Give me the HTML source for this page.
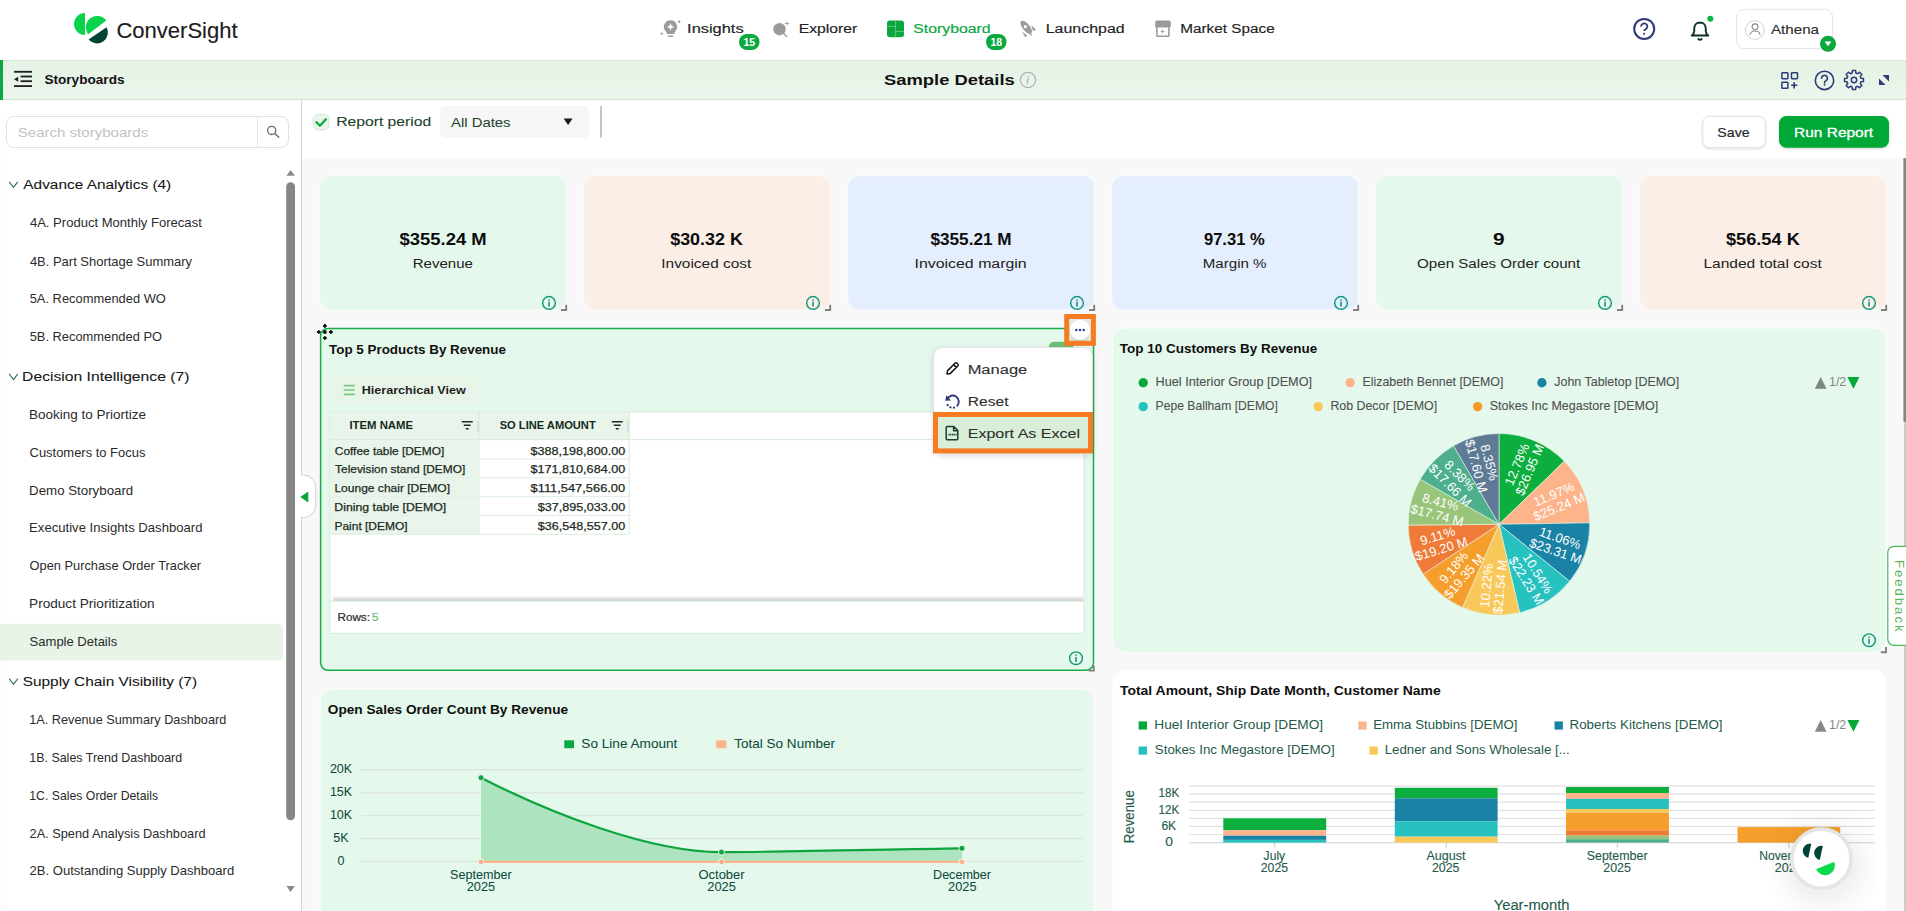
<!DOCTYPE html>
<html><head><meta charset="utf-8"><title>ConverSight - Sample Details</title>
<style>
html,body{margin:0;padding:0;width:1906px;height:911px;overflow:hidden;background:#f8f8f8;}
svg{display:block;font-family:"Liberation Sans", sans-serif;}
svg text{font-family:"Liberation Sans", sans-serif;}
</style></head>
<body>
<svg width="1906" height="911" viewBox="0 0 1906 911">
<defs>
<filter id="sh" x="-20%" y="-20%" width="140%" height="150%"><feDropShadow dx="0" dy="2" stdDeviation="3" flood-color="#000" flood-opacity="0.14"/></filter>
<filter id="sh2" x="-30%" y="-30%" width="160%" height="160%"><feDropShadow dx="0" dy="1" stdDeviation="1.2" flood-color="#000" flood-opacity="0.18"/></filter>
<linearGradient id="scrsh" x1="0" y1="0" x2="0" y2="1"><stop offset="0" stop-color="#ffffff"/><stop offset="1" stop-color="#c9c9c9"/></linearGradient>
<linearGradient id="strip" x1="0" y1="0" x2="0" y2="1"><stop offset="0" stop-color="#e6f2e6"/><stop offset="1" stop-color="#ecf6ec"/></linearGradient>
<radialGradient id="chatsh" cx="0.5" cy="0.5" r="0.5"><stop offset="0.5" stop-color="#000" stop-opacity="0.055"/><stop offset="0.75" stop-color="#000" stop-opacity="0.02"/><stop offset="1" stop-color="#000" stop-opacity="0"/></radialGradient>
</defs>
<rect x="0" y="0" width="1906" height="911" rx="0" fill="#f8f8f8" />
<rect x="0" y="0" width="1906" height="60" rx="0" fill="#ffffff" />
<path d="M85,13 A11,11 0 0 0 85,35 Z" fill="#08d34b" />
<path d="M88.2,34.2 L106.2,20.4 A11.3,11.3 0 0 0 88.2,34.2 Z" fill="#08d34b" />
<path d="M88.6,39.6 L106.6,27.2 A11,11 0 0 1 88.6,39.6 Z" fill="#004436" />
<text x="116.38" y="38" font-size="22.67" font-weight="400" fill="#1c1c1c" textLength="121.28" lengthAdjust="spacingAndGlyphs" stroke="#1c1c1c" stroke-width="0.15">ConverSight</text>
<text x="687.09" y="33" font-size="13.08" font-weight="400" fill="#1f1f1f" textLength="56.51" lengthAdjust="spacingAndGlyphs" stroke="#1f1f1f" stroke-width="0.18">Insights</text>
<text x="798.71" y="33" font-size="13.08" font-weight="400" fill="#1f1f1f" textLength="58.55" lengthAdjust="spacingAndGlyphs" stroke="#1f1f1f" stroke-width="0.18">Explorer</text>
<text x="913.28" y="33" font-size="13.08" font-weight="400" fill="#0aa83f" textLength="77.34" lengthAdjust="spacingAndGlyphs" stroke="#0aa83f" stroke-width="0.18">Storyboard</text>
<text x="1045.69" y="33" font-size="13.08" font-weight="400" fill="#1f1f1f" textLength="78.94" lengthAdjust="spacingAndGlyphs" stroke="#1f1f1f" stroke-width="0.18">Launchpad</text>
<text x="1180.24" y="33" font-size="13.08" font-weight="400" fill="#1f1f1f" textLength="94.44" lengthAdjust="spacingAndGlyphs" stroke="#1f1f1f" stroke-width="0.18">Market Space</text>
<rect x="739" y="34" width="20.6" height="16" rx="8" fill="#0aa83f" />
<text x="749.3" y="45.6" font-size="10.5" font-weight="700" fill="#ffffff" text-anchor="middle" >15</text>
<rect x="986" y="34" width="20.6" height="16" rx="8" fill="#0aa83f" />
<text x="996.3" y="45.6" font-size="10.5" font-weight="700" fill="#ffffff" text-anchor="middle" >18</text>
<path d="M670.5,20.3 a6.6,6.6 0 0 1 4.3,11.6 l-0.6,2.2 h-7.4 l-0.6,-2.2 a6.6,6.6 0 0 1 4.3,-11.6 z" fill="#9b9b9b" />
<path d="M667.6,35.4 h5.8 l-0.6,1.6 h-4.6 z" fill="#9b9b9b" />
<path d="M670.5,23.2 l1.1,2.6 l2.6,1.1 l-2.6,1.1 l-1.1,2.6 l-1.1,-2.6 l-2.6,-1.1 l2.6,-1.1 z" fill="#ffffff" />
<circle cx="661.8" cy="33.6" r="1.2" fill="#9b9b9b" />
<circle cx="679.2" cy="21.7" r="1.2" fill="#9b9b9b" />
<circle cx="779.5" cy="29.2" r="6.2" fill="#9b9b9b" />
<line x1="783.6" y1="33.4" x2="786.6" y2="36.4" stroke="#9b9b9b" stroke-width="1.4" stroke-linecap="round"/>
<path d="M787.0,20.3 l0.55,2.65 l2.65,0.55 l-2.65,0.55 l-0.55,2.65 l-0.55,-2.65 l-2.65,-0.55 l2.65,-0.55 z" fill="#9b9b9b" />
<rect x="887" y="20.6" width="17" height="16.6" rx="3" fill="#0aa83f" />
<line x1="895.6" y1="20.6" x2="895.6" y2="37.2" stroke="#7fd39a" stroke-width="0.7" />
<line x1="887" y1="26.4" x2="895.6" y2="26.4" stroke="#7fd39a" stroke-width="0.7" />
<line x1="895.6" y1="31.5" x2="904" y2="31.5" stroke="#7fd39a" stroke-width="0.7" />
<ellipse cx="1026.2" cy="27.3" rx="3.6" ry="8.0" fill="#9b9b9b" transform="rotate(-39 1026.2 27.3)"/>
<circle cx="1025.3" cy="26.7" r="1.6" fill="#ffffff" />
<path d="M1031.2,25.0 L1036.0,29.8 L1033.0,31.0 Z" fill="#9b9b9b" />
<path d="M1022.0,31.6 L1027.2,35.4 L1025.3,37.4 Z" fill="#9b9b9b" />
<path d="M1030.0,33.3 L1032.3,34.4 L1030.5,36.0 Z" fill="#9b9b9b" />
<path d="M1155.2,22.4 a1.8,1.8 0 0 1 1.8,-1.8 h12 a1.8,1.8 0 0 1 1.8,1.8 v4.5 h-15.6 z" fill="#9b9b9b" />
<rect x="1156.9" y="26.6" width="12.0" height="9.7" rx="0.6" fill="none" stroke="#9b9b9b" stroke-width="1.6" />
<path d="M1162.6,29.0 l0.6,1.9 l1.9,0.6 l-1.9,0.6 l-0.6,1.9 l-0.6,-1.9 l-1.9,-0.6 l1.9,-0.6 z" fill="#9b9b9b" />
<circle cx="1644.2" cy="28.9" r="10" fill="none" stroke="#2e3a78" stroke-width="2" />
<path d="M1641.1,26.6 a3.15,3.0 0 1 1 4.9,2.3 c-1.2,0.7 -1.8,1.0 -1.8,2.0" fill="none" stroke="#2e3a78" stroke-width="1.8" />
<rect x="1643.3" y="32.9" width="1.8" height="1.8" rx="0" fill="#2e3a78" />
<path d="M1700,22.5 c-3.7,0 -5.8,2.9 -5.8,6.4 v2.6 c0,1.6 -0.8,2.8 -2.4,4 h16.4 c-1.6,-1.2 -2.4,-2.4 -2.4,-4 v-2.6 c0,-3.5 -2.1,-6.4 -5.8,-6.4 z" fill="none" stroke="#0b2f26" stroke-width="1.9" stroke-linejoin="round"/>
<path d="M1697.9,38.4 a2.2,2.0 0 0 0 4.2,0" fill="none" stroke="#0b2f26" stroke-width="1.7" />
<circle cx="1710.3" cy="18.8" r="3" fill="#0bb344" />
<rect x="1736.6" y="9.3" width="96.0" height="39.3" rx="8" fill="#ffffff" stroke="#e4e4e4" stroke-width="1" />
<circle cx="1754.8" cy="30.0" r="9.4" fill="#ffffff" stroke="#d2d2d2" stroke-width="1" />
<circle cx="1755.0" cy="26.8" r="2.9" fill="none" stroke="#8a8a8a" stroke-width="1.1" />
<path d="M1749.9,34.9 a5.2,4.8 0 0 1 10.2,0" fill="none" stroke="#8a8a8a" stroke-width="1.1" />
<text x="1770.97" y="34" font-size="13.37" font-weight="400" fill="#2a2a2a" textLength="48.03" lengthAdjust="spacingAndGlyphs" stroke="#2a2a2a" stroke-width="0.1">Athena</text>
<circle cx="1828" cy="43.8" r="8" fill="#0aa83f" />
<path d="M1824.6,41.6 h6.8 l-3.4,4.6 z" fill="#ffffff" />
<rect x="0" y="60" width="1906" height="40" rx="0" fill="url(#strip)" />
<line x1="0" y1="60.5" x2="1906" y2="60.5" stroke="#cde9cf" stroke-width="1" />
<line x1="0" y1="99.5" x2="1906" y2="99.5" stroke="#cde9cf" stroke-width="1" />
<rect x="0" y="60" width="3" height="40" rx="0" fill="#0aa83f" />
<rect x="14" y="70.9" width="18" height="1.8" rx="0" fill="#1f1f1f" />
<rect x="20.6" y="75.6" width="11.4" height="1.8" rx="0" fill="#1f1f1f" />
<rect x="20.6" y="80.3" width="11.4" height="1.8" rx="0" fill="#1f1f1f" />
<rect x="14" y="85.2" width="18" height="1.8" rx="0" fill="#1f1f1f" />
<path d="M14,79.2 L18.2,76.7 L18.2,81.7 Z" fill="#1f1f1f" />
<text x="44.41" y="84" font-size="13.08" font-weight="700" fill="#111111" textLength="80.15" lengthAdjust="spacingAndGlyphs" >Storyboards</text>
<text x="884.07" y="84.6" font-size="15.12" font-weight="700" fill="#111111" textLength="130.68" lengthAdjust="spacingAndGlyphs" >Sample Details</text>
<circle cx="1028" cy="80" r="7.6" fill="none" stroke="#b0b0b0" stroke-width="1.2" />
<path d="M1028.6,76.4 l-0.1,0.4 M1028.1,78.6 l-0.9,5" fill="none" stroke="#b0b0b0" stroke-width="1.2" stroke-linecap="round"/>
<rect x="1781.9" y="72.7" width="6" height="6" rx="0.6" fill="none" stroke="#2e3a78" stroke-width="1.5" />
<rect x="1791.5" y="72.7" width="6" height="6" rx="0.6" fill="none" stroke="#2e3a78" stroke-width="1.5" />
<rect x="1781.9" y="82.3" width="6" height="6" rx="0.6" fill="none" stroke="#2e3a78" stroke-width="1.5" />
<path d="M1794.2,82.2 v6.2 M1791.1,85.3 h6.2" fill="none" stroke="#2e3a78" stroke-width="1.6" />
<circle cx="1824.5" cy="80.4" r="9.2" fill="none" stroke="#2e3a78" stroke-width="1.6" />
<path d="M1821.6,78.2 a2.9,2.9 0 1 1 4.4,2.5 c-1.1,0.7 -1.5,1.1 -1.5,2.3" fill="none" stroke="#2e3a78" stroke-width="1.6" stroke-linecap="round"/>
<circle cx="1824.5" cy="84.9" r="0.9" fill="#2e3a78" />
<path d="M1860.96,78.15 L1863.46,78.38 L1863.46,81.62 L1860.96,81.85 L1860.23,83.61 L1861.84,85.54 L1859.54,87.84 L1857.61,86.23 L1855.85,86.96 L1855.62,89.46 L1852.38,89.46 L1852.15,86.96 L1850.39,86.23 L1848.46,87.84 L1846.16,85.54 L1847.77,83.61 L1847.04,81.85 L1844.54,81.62 L1844.54,78.38 L1847.04,78.15 L1847.77,76.39 L1846.16,74.46 L1848.46,72.16 L1850.39,73.77 L1852.15,73.04 L1852.38,70.54 L1855.62,70.54 L1855.85,73.04 L1857.61,73.77 L1859.54,72.16 L1861.84,74.46 L1860.23,76.39 Z" fill="none" stroke="#2e3a78" stroke-width="1.5" stroke-linejoin="round"/>
<circle cx="1854" cy="80" r="2.7" fill="none" stroke="#2e3a78" stroke-width="1.5" />
<path d="M1879,78.5 L1879,85 L1885.5,85 Z" fill="#2e3a78" />
<path d="M1889,81.5 L1889,75 L1882.5,75 Z" fill="#2e3a78" />
<rect x="0" y="100" width="301" height="811" rx="0" fill="#ffffff" />
<rect x="0" y="150" width="6.8" height="761" rx="0" fill="#fdfdfd" />
<line x1="301.5" y1="100" x2="301.5" y2="911" stroke="#d6d6d6" stroke-width="1" />
<rect x="6.5" y="116.5" width="282" height="31" rx="7.5" fill="#ffffff" stroke="#e2e2e2" stroke-width="1" />
<line x1="257.5" y1="117" x2="257.5" y2="147" stroke="#e6e6e6" stroke-width="1" />
<circle cx="271.7" cy="130.4" r="4.1" fill="none" stroke="#6a6a6a" stroke-width="1.3" />
<line x1="274.7" y1="133.5" x2="278.8" y2="137.3" stroke="#6a6a6a" stroke-width="1.4" stroke-linecap="round"/>
<text x="17.72" y="137.2" font-size="13.52" font-weight="400" fill="#c2c2c2" textLength="130.53" lengthAdjust="spacingAndGlyphs" >Search storyboards</text>
<path d="M286.4,175.8 L290.6,170 L294.8,175.8 Z" fill="#8a8a8a" />
<rect x="286.2" y="182.2" width="8.8" height="638" rx="4.4" fill="#858585" />
<path d="M286.4,886 L294.8,886 L290.6,892 Z" fill="#8a8a8a" />
<rect x="-6" y="623.8" width="289" height="36.8" rx="5" fill="#e8f4e8" />
<text x="23.37" y="189.1" font-size="13.08" font-weight="400" fill="#161616" textLength="147.88" lengthAdjust="spacingAndGlyphs" stroke="#161616" stroke-width="0.08">Advance Analytics (4)</text>
<path d="M9.2,181.79999999999998 L13.5,187.4 L17.8,181.79999999999998" fill="none" stroke="#2d6e62" stroke-width="1.1" />
<text x="29.90" y="227.0" font-size="11.92" font-weight="400" fill="#2b2b2b" textLength="171.90" lengthAdjust="spacingAndGlyphs" >4A. Product Monthly Forecast</text>
<text x="29.90" y="265.6" font-size="11.92" font-weight="400" fill="#2b2b2b" textLength="162.22" lengthAdjust="spacingAndGlyphs" >4B. Part Shortage Summary</text>
<text x="29.68" y="303.2" font-size="11.92" font-weight="400" fill="#2b2b2b" textLength="136.23" lengthAdjust="spacingAndGlyphs" >5A. Recommended WO</text>
<text x="29.68" y="340.5" font-size="11.92" font-weight="400" fill="#2b2b2b" textLength="132.33" lengthAdjust="spacingAndGlyphs" >5B. Recommended PO</text>
<text x="22.11" y="381.2" font-size="13.08" font-weight="400" fill="#161616" textLength="167.26" lengthAdjust="spacingAndGlyphs" stroke="#161616" stroke-width="0.08">Decision Intelligence (7)</text>
<path d="M9.2,373.9 L13.5,379.5 L17.8,373.9" fill="none" stroke="#2d6e62" stroke-width="1.1" />
<text x="29.09" y="419.3" font-size="11.92" font-weight="400" fill="#2b2b2b" textLength="116.91" lengthAdjust="spacingAndGlyphs" >Booking to Priortize</text>
<text x="29.54" y="457.0" font-size="11.92" font-weight="400" fill="#2b2b2b" textLength="115.83" lengthAdjust="spacingAndGlyphs" >Customers to Focus</text>
<text x="29.11" y="495.0" font-size="11.92" font-weight="400" fill="#2b2b2b" textLength="104.15" lengthAdjust="spacingAndGlyphs" >Demo Storyboard</text>
<text x="29.13" y="532.2" font-size="11.92" font-weight="400" fill="#2b2b2b" textLength="173.32" lengthAdjust="spacingAndGlyphs" >Executive Insights Dashboard</text>
<text x="29.60" y="570.0" font-size="11.92" font-weight="400" fill="#2b2b2b" textLength="171.52" lengthAdjust="spacingAndGlyphs" >Open Purchase Order Tracker</text>
<text x="29.08" y="607.9" font-size="11.92" font-weight="400" fill="#2b2b2b" textLength="125.50" lengthAdjust="spacingAndGlyphs" >Product Prioritization</text>
<text x="29.61" y="645.9" font-size="11.92" font-weight="400" fill="#2b2b2b" textLength="87.56" lengthAdjust="spacingAndGlyphs" >Sample Details</text>
<text x="22.70" y="686.0" font-size="13.08" font-weight="400" fill="#161616" textLength="174.35" lengthAdjust="spacingAndGlyphs" stroke="#161616" stroke-width="0.08">Supply Chain Visibility (7)</text>
<path d="M9.2,678.7 L13.5,684.3 L17.8,678.7" fill="none" stroke="#2d6e62" stroke-width="1.1" />
<text x="29.23" y="724.2" font-size="11.92" font-weight="400" fill="#2b2b2b" textLength="197.09" lengthAdjust="spacingAndGlyphs" >1A. Revenue Summary Dashboard</text>
<text x="29.26" y="762.1" font-size="11.92" font-weight="400" fill="#2b2b2b" textLength="152.94" lengthAdjust="spacingAndGlyphs" >1B. Sales Trend Dashboard</text>
<text x="29.27" y="799.9" font-size="11.92" font-weight="400" fill="#2b2b2b" textLength="128.88" lengthAdjust="spacingAndGlyphs" >1C. Sales Order Details</text>
<text x="29.56" y="837.9" font-size="11.92" font-weight="400" fill="#2b2b2b" textLength="175.96" lengthAdjust="spacingAndGlyphs" >2A. Spend Analysis Dashboard</text>
<text x="29.54" y="875.2" font-size="11.92" font-weight="400" fill="#2b2b2b" textLength="204.70" lengthAdjust="spacingAndGlyphs" >2B. Outstanding Supply Dashboard</text>
<rect x="300.6" y="475.5" width="3" height="41.6" rx="0" fill="#ffffff" />
<path d="M301,475 H303.5 A12.2,12.2 0 0 1 315.7,487.2 V505.4 A12.2,12.2 0 0 1 303.5,517.6 H301" fill="#ffffff" stroke="#d0d0d0" stroke-width="1" />
<rect x="300.5" y="475.6" width="3.2" height="41.4" rx="0" fill="#ffffff" />
<path d="M300.2,497 L308.3,491.5 L308.3,502.4 Z" fill="#0aa83f" />
<rect x="302" y="100" width="1604" height="58" rx="0" fill="#ffffff" />
<rect x="313.2" y="114.2" width="15.6" height="15.6" rx="5" fill="#eaf6eb" stroke="#cfe8d2" stroke-width="1" />
<path d="M316.3,122.1 L319.9,125.8 L325.9,119.2" fill="none" stroke="#0aa83f" stroke-width="2.2" stroke-linecap="round" stroke-linejoin="round"/>
<text x="336.21" y="126.2" font-size="13.37" font-weight="400" fill="#22432a" textLength="95.00" lengthAdjust="spacingAndGlyphs" stroke="#22432a" stroke-width="0.1">Report period</text>
<rect x="440" y="106" width="149.6" height="31.8" rx="5" fill="#f6f6f6" />
<text x="450.97" y="127.0" font-size="13.23" font-weight="400" fill="#1e452b" textLength="59.57" lengthAdjust="spacingAndGlyphs" stroke="#1e452b" stroke-width="0.05">All Dates</text>
<path d="M563.6,118.6 L572.6,118.6 L568.1,125 Z" fill="#1a1a1a" />
<line x1="601" y1="106" x2="601" y2="137.5" stroke="#c4c4c4" stroke-width="2" />
<rect x="1702.8" y="116.3" width="62.4" height="31.3" rx="7" fill="#ffffff" stroke="#e2e2e2" stroke-width="1" filter="url(#sh2)"/>
<text x="1717.36" y="137" font-size="13.52" font-weight="400" fill="#2a2a2a" textLength="32.27" lengthAdjust="spacingAndGlyphs" stroke="#2a2a2a" stroke-width="0.2">Save</text>
<rect x="1779" y="116" width="110" height="31.8" rx="7.5" fill="#03a837" filter="url(#sh2)"/>
<text x="1794.13" y="137" font-size="13.52" font-weight="400" fill="#ffffff" textLength="78.98" lengthAdjust="spacingAndGlyphs" stroke="#ffffff" stroke-width="0.3">Run Report</text>
<rect x="1904" y="158" width="2" height="753" rx="0" fill="#cbcbcb" />
<rect x="1903.4" y="158" width="2.6" height="264" rx="1.3" fill="#848484" />
<rect x="319.7" y="175.7" width="246.6" height="134.2" rx="10.5" fill="#e4f8ec" stroke="#ffffff" stroke-width="0.6" />
<text x="399.56" y="245.0" font-size="15.99" font-weight="700" fill="#0c0c0c" textLength="87.08" lengthAdjust="spacingAndGlyphs" >$355.24 M</text>
<text x="412.77" y="268.1" font-size="13.23" font-weight="400" fill="#222222" textLength="60.10" lengthAdjust="spacingAndGlyphs" >Revenue</text>
<circle cx="549" cy="302.9" r="6.35" fill="none" stroke="#14987a" stroke-width="1.45" />
<rect x="548.2" y="299.29999999999995" width="1.6" height="1.3" rx="0" fill="#14987a" />
<rect x="548.2" y="301.59999999999997" width="1.6" height="5.0" rx="0" fill="#14987a" />
<path d="M561.0,310 L566.2,310 L566.2,304.8" fill="none" stroke="#828282" stroke-width="1.9" />
<rect x="583.7" y="175.7" width="246.6" height="134.2" rx="10.5" fill="#fbeee6" stroke="#ffffff" stroke-width="0.6" />
<text x="670.16" y="245.0" font-size="15.99" font-weight="700" fill="#0c0c0c" textLength="72.80" lengthAdjust="spacingAndGlyphs" >$30.32 K</text>
<text x="661.28" y="268.1" font-size="13.23" font-weight="400" fill="#222222" textLength="90.04" lengthAdjust="spacingAndGlyphs" >Invoiced cost</text>
<circle cx="813" cy="302.9" r="6.35" fill="none" stroke="#14987a" stroke-width="1.45" />
<rect x="812.2" y="299.29999999999995" width="1.6" height="1.3" rx="0" fill="#14987a" />
<rect x="812.2" y="301.59999999999997" width="1.6" height="5.0" rx="0" fill="#14987a" />
<path d="M825.0,310 L830.2,310 L830.2,304.8" fill="none" stroke="#828282" stroke-width="1.9" />
<rect x="847.7" y="175.7" width="246.6" height="134.2" rx="10.5" fill="#e5eefd" stroke="#ffffff" stroke-width="0.6" />
<text x="930.47" y="245.0" font-size="15.99" font-weight="700" fill="#0c0c0c" textLength="81.07" lengthAdjust="spacingAndGlyphs" >$355.21 M</text>
<text x="914.53" y="268.1" font-size="13.23" font-weight="400" fill="#222222" textLength="112.20" lengthAdjust="spacingAndGlyphs" >Invoiced margin</text>
<circle cx="1077" cy="302.9" r="6.35" fill="none" stroke="#14987a" stroke-width="1.45" />
<rect x="1076.2" y="299.29999999999995" width="1.6" height="1.3" rx="0" fill="#14987a" />
<rect x="1076.2" y="301.59999999999997" width="1.6" height="5.0" rx="0" fill="#14987a" />
<path d="M1089.0,310 L1094.2,310 L1094.2,304.8" fill="none" stroke="#828282" stroke-width="1.9" />
<rect x="1111.7" y="175.7" width="246.6" height="134.2" rx="10.5" fill="#e5eefd" stroke="#ffffff" stroke-width="0.6" />
<text x="1203.93" y="245.0" font-size="15.99" font-weight="700" fill="#0c0c0c" textLength="60.81" lengthAdjust="spacingAndGlyphs" >97.31 %</text>
<text x="1202.76" y="268.1" font-size="13.23" font-weight="400" fill="#222222" textLength="63.78" lengthAdjust="spacingAndGlyphs" >Margin %</text>
<circle cx="1341" cy="302.9" r="6.35" fill="none" stroke="#14987a" stroke-width="1.45" />
<rect x="1340.2" y="299.29999999999995" width="1.6" height="1.3" rx="0" fill="#14987a" />
<rect x="1340.2" y="301.59999999999997" width="1.6" height="5.0" rx="0" fill="#14987a" />
<path d="M1353.0,310 L1358.2,310 L1358.2,304.8" fill="none" stroke="#828282" stroke-width="1.9" />
<rect x="1375.7" y="175.7" width="246.6" height="134.2" rx="10.5" fill="#e4f8ec" stroke="#ffffff" stroke-width="0.6" />
<text x="1492.98" y="245.0" font-size="15.99" font-weight="700" fill="#0c0c0c" textLength="11.60" lengthAdjust="spacingAndGlyphs" >9</text>
<text x="1417.08" y="268.1" font-size="13.23" font-weight="400" fill="#222222" textLength="163.13" lengthAdjust="spacingAndGlyphs" >Open Sales Order count</text>
<circle cx="1605" cy="302.9" r="6.35" fill="none" stroke="#14987a" stroke-width="1.45" />
<rect x="1604.2" y="299.29999999999995" width="1.6" height="1.3" rx="0" fill="#14987a" />
<rect x="1604.2" y="301.59999999999997" width="1.6" height="5.0" rx="0" fill="#14987a" />
<path d="M1617.0,310 L1622.2,310 L1622.2,304.8" fill="none" stroke="#828282" stroke-width="1.9" />
<rect x="1639.7" y="175.7" width="246.6" height="134.2" rx="10.5" fill="#fbeee6" stroke="#ffffff" stroke-width="0.6" />
<text x="1725.96" y="245.0" font-size="15.99" font-weight="700" fill="#0c0c0c" textLength="73.81" lengthAdjust="spacingAndGlyphs" >$56.54 K</text>
<text x="1703.42" y="268.1" font-size="13.23" font-weight="400" fill="#222222" textLength="118.39" lengthAdjust="spacingAndGlyphs" >Landed total cost</text>
<circle cx="1869" cy="302.9" r="6.35" fill="none" stroke="#14987a" stroke-width="1.45" />
<rect x="1868.2" y="299.29999999999995" width="1.6" height="1.3" rx="0" fill="#14987a" />
<rect x="1868.2" y="301.59999999999997" width="1.6" height="5.0" rx="0" fill="#14987a" />
<path d="M1881.0,310 L1886.2,310 L1886.2,304.8" fill="none" stroke="#828282" stroke-width="1.9" />
<rect x="320.6" y="328.4" width="772.9" height="341.9" rx="7.5" fill="#e4f8ec" stroke="#16ad47" stroke-width="1.5" />
<text x="329.05" y="353.9" font-size="11.92" font-weight="700" fill="#111111" textLength="176.90" lengthAdjust="spacingAndGlyphs" >Top 5 Products By Revenue</text>
<rect x="329.2" y="377.6" width="149.6" height="24.8" rx="3" fill="#e9f4e9" />
<rect x="343.6" y="384.75" width="11.4" height="1.7" rx="0.8" fill="#74cb7e" />
<rect x="343.6" y="389.15" width="11.4" height="1.7" rx="0.8" fill="#74cb7e" />
<rect x="343.6" y="393.54999999999995" width="11.4" height="1.7" rx="0.8" fill="#74cb7e" />
<text x="361.66" y="394.0" font-size="11.63" font-weight="700" fill="#1f1f1f" textLength="104.02" lengthAdjust="spacingAndGlyphs" >Hierarchical View</text>
<rect x="329.8" y="411.9" width="754.2" height="221.4" rx="0" fill="#ffffff" stroke="#d4ecd7" stroke-width="1" />
<rect x="330.3" y="412.4" width="298.9" height="27" rx="0" fill="#e9f4ea" />
<line x1="479.1" y1="412" x2="479.1" y2="534.5" stroke="#d4ecd7" stroke-width="1" />
<line x1="629.2" y1="412" x2="629.2" y2="534.5" stroke="#d4ecd7" stroke-width="1" />
<line x1="330" y1="439.6" x2="1084" y2="439.6" stroke="#d4ecd7" stroke-width="1" />
<text x="349.44" y="429.3" font-size="10.9" font-weight="700" fill="#142a1c" textLength="63.60" lengthAdjust="spacingAndGlyphs" >ITEM NAME</text>
<text x="499.68" y="429.3" font-size="10.9" font-weight="700" fill="#142a1c" textLength="96.04" lengthAdjust="spacingAndGlyphs" >SO LINE AMOUNT</text>
<path d="M461.8,421.8 h10.9 M463.8,425.3 h6.9 M465.8,428.8 h2.9" fill="none" stroke="#1e2e24" stroke-width="1.4" />
<path d="M611.8,421.8 h10.9 M613.8,425.3 h6.9 M615.8,428.8 h2.9" fill="none" stroke="#1e2e24" stroke-width="1.4" />
<line x1="478.0" y1="421" x2="478.0" y2="432" stroke="#c9d3cc" stroke-width="1" />
<line x1="628.0" y1="421" x2="628.0" y2="432" stroke="#c9d3cc" stroke-width="1" />
<rect x="330.3" y="440.1" width="148.3" height="18.85" rx="0" fill="#e9f4ea" />
<line x1="330" y1="458.95000000000005" x2="629.5" y2="458.95000000000005" stroke="#dcefdf" stroke-width="1" />
<text x="334.80" y="454.5" font-size="11.05" font-weight="400" fill="#1c2b22" textLength="109.45" lengthAdjust="spacingAndGlyphs" stroke="#1c2b22" stroke-width="0.25">Coffee table [DEMO]</text>
<text x="530.56" y="454.5" font-size="11.05" font-weight="400" fill="#1c2b22" textLength="94.63" lengthAdjust="spacingAndGlyphs" stroke="#1c2b22" stroke-width="0.25">$388,198,800.00</text>
<rect x="330.3" y="458.95000000000005" width="148.3" height="18.85" rx="0" fill="#e9f4ea" />
<line x1="330" y1="477.80000000000007" x2="629.5" y2="477.80000000000007" stroke="#dcefdf" stroke-width="1" />
<text x="335.14" y="473.4" font-size="11.05" font-weight="400" fill="#1c2b22" textLength="130.10" lengthAdjust="spacingAndGlyphs" stroke="#1c2b22" stroke-width="0.25">Television stand [DEMO]</text>
<text x="530.56" y="473.4" font-size="11.05" font-weight="400" fill="#1c2b22" textLength="94.63" lengthAdjust="spacingAndGlyphs" stroke="#1c2b22" stroke-width="0.25">$171,810,684.00</text>
<rect x="330.3" y="477.8" width="148.3" height="18.85" rx="0" fill="#e9f4ea" />
<line x1="330" y1="496.65000000000003" x2="629.5" y2="496.65000000000003" stroke="#dcefdf" stroke-width="1" />
<text x="334.41" y="492.3" font-size="11.05" font-weight="400" fill="#1c2b22" textLength="115.64" lengthAdjust="spacingAndGlyphs" stroke="#1c2b22" stroke-width="0.25">Lounge chair [DEMO]</text>
<text x="530.56" y="492.3" font-size="11.05" font-weight="400" fill="#1c2b22" textLength="94.63" lengthAdjust="spacingAndGlyphs" stroke="#1c2b22" stroke-width="0.25">$111,547,566.00</text>
<rect x="330.3" y="496.65000000000003" width="148.3" height="18.85" rx="0" fill="#e9f4ea" />
<line x1="330" y1="515.5" x2="629.5" y2="515.5" stroke="#dcefdf" stroke-width="1" />
<text x="334.39" y="511.2" font-size="11.05" font-weight="400" fill="#1c2b22" textLength="111.88" lengthAdjust="spacingAndGlyphs" stroke="#1c2b22" stroke-width="0.25">Dining table [DEMO]</text>
<text x="537.76" y="511.2" font-size="11.05" font-weight="400" fill="#1c2b22" textLength="87.43" lengthAdjust="spacingAndGlyphs" stroke="#1c2b22" stroke-width="0.25">$37,895,033.00</text>
<rect x="330.3" y="515.5" width="148.3" height="18.85" rx="0" fill="#e9f4ea" />
<line x1="330" y1="534.35" x2="629.5" y2="534.35" stroke="#dcefdf" stroke-width="1" />
<text x="334.42" y="530.1" font-size="11.05" font-weight="400" fill="#1c2b22" textLength="73.24" lengthAdjust="spacingAndGlyphs" stroke="#1c2b22" stroke-width="0.25">Paint [DEMO]</text>
<text x="537.76" y="530.1" font-size="11.05" font-weight="400" fill="#1c2b22" textLength="87.43" lengthAdjust="spacingAndGlyphs" stroke="#1c2b22" stroke-width="0.25">$36,548,557.00</text>
<path d="M331,595.8 L1083.5,595.8 L1083.5,601 L334.8,601 Q332,599.5 331,595.8 Z" fill="url(#scrsh)" />
<line x1="330" y1="601.2" x2="1084" y2="601.2" stroke="#d4ecd7" stroke-width="1" />
<text x="337.44" y="621.2" font-size="10.9" font-weight="400" fill="#2b2b2b" textLength="32.53" lengthAdjust="spacingAndGlyphs" stroke="#2b2b2b" stroke-width="0.2">Rows:</text>
<text x="372.13" y="621.2" font-size="10.9" font-weight="400" fill="#6cc070" textLength="6.57" lengthAdjust="spacingAndGlyphs" stroke="#6cc070" stroke-width="0.2">5</text>
<circle cx="1076" cy="658.2" r="6.35" fill="none" stroke="#14987a" stroke-width="1.45" />
<rect x="1075.2" y="654.6" width="1.6" height="1.3" rx="0" fill="#14987a" />
<rect x="1075.2" y="656.9000000000001" width="1.6" height="5.0" rx="0" fill="#14987a" />
<path d="M1088.6,670.6 L1093.8,670.6 L1093.8,665.4" fill="none" stroke="#828282" stroke-width="1.9" />
<circle cx="324.9" cy="332" r="1.9" fill="#111111" />
<rect x="322.79999999999995" y="324.9" width="4.2" height="2.0" rx="1" fill="#111111" />
<rect x="323.9" y="323.79999999999995" width="2.0" height="4.2" rx="1" fill="#111111" />
<rect x="322.79999999999995" y="337.0" width="4.2" height="2.0" rx="1" fill="#111111" />
<rect x="323.9" y="335.9" width="2.0" height="4.2" rx="1" fill="#111111" />
<rect x="316.7" y="331.0" width="4.2" height="2.0" rx="1" fill="#111111" />
<rect x="317.8" y="329.9" width="2.0" height="4.2" rx="1" fill="#111111" />
<rect x="328.79999999999995" y="331.0" width="4.2" height="2.0" rx="1" fill="#111111" />
<rect x="329.9" y="329.9" width="2.0" height="4.2" rx="1" fill="#111111" />
<rect x="1049" y="341.8" width="24.4" height="12" rx="5" fill="#6cc172" />
<rect x="1069" y="319" width="22" height="22" rx="0" fill="#e3ede6" />
<circle cx="1080" cy="330" r="10" fill="#ffffff" filter="url(#sh2)"/>
<rect x="1075.2" y="328.9" width="2.2" height="2.2" rx="0" fill="#2b3a86" />
<rect x="1078.9" y="328.9" width="2.2" height="2.2" rx="0" fill="#2b3a86" />
<rect x="1082.6000000000001" y="328.9" width="2.2" height="2.2" rx="0" fill="#2b3a86" />
<rect x="1066.7" y="316.5" width="26.7" height="26.8" rx="0" fill="none" stroke="#f67b22" stroke-width="5" />
<rect x="933.6" y="347.5" width="158.8" height="106" rx="9" fill="#ffffff" stroke="#dedede" stroke-width="0.8" filter="url(#sh)"/>
<text x="967.65" y="373.5" font-size="13.52" font-weight="400" fill="#303030" textLength="59.59" lengthAdjust="spacingAndGlyphs" stroke="#303030" stroke-width="0.1">Manage</text>
<text x="967.72" y="405.6" font-size="13.52" font-weight="400" fill="#303030" textLength="40.80" lengthAdjust="spacingAndGlyphs" stroke="#303030" stroke-width="0.1">Reset</text>
<rect x="935.5" y="414.5" width="155" height="36.4" rx="0" fill="#d8eed6" stroke="#f67b22" stroke-width="5" />
<text x="967.69" y="437.7" font-size="13.52" font-weight="400" fill="#303030" textLength="112.37" lengthAdjust="spacingAndGlyphs" stroke="#303030" stroke-width="0.1">Export As Excel</text>
<path d="M947,374 l0.6,-3.4 l7.4,-7.4 a1.4,1.4 0 0 1 2,0 l0.8,0.8 a1.4,1.4 0 0 1 0,2 l-7.4,7.4 z M953.6,364.6 l2.8,2.8" fill="none" stroke="#111111" stroke-width="1.5" stroke-linejoin="round"/>
<path d="M947.17,399.12 A6.1,6.1 0 1 1 956.78,406.23" fill="none" stroke="#2e3a78" stroke-width="1.9" />
<path d="M954.99,407.36 A6.1,6.1 0 0 1 952.91,407.80" fill="none" stroke="#2e3a78" stroke-width="1.9" />
<path d="M951.43,407.67 A6.1,6.1 0 0 1 949.47,406.87" fill="none" stroke="#2e3a78" stroke-width="1.9" />
<path d="M948.31,405.94 A6.1,6.1 0 0 1 947.13,404.18" fill="none" stroke="#2e3a78" stroke-width="1.9" />
<path d="M946.4,395.2 L945.2,400.8 L951,400.4 Z" fill="#2e3a78" />
<path d="M947.2,426.6 h6.6 l4,4 v8.2 a1,1 0 0 1 -1,1 h-9.6 a1,1 0 0 1 -1,-1 v-11.2 a1,1 0 0 1 1,-1 z M953.6,426.6 v4.2 h4.2" fill="none" stroke="#163f39" stroke-width="1.5" stroke-linejoin="round"/>
<path d="M948.4,434.6 h8.2" fill="none" stroke="#163f39" stroke-width="1.6" stroke-dasharray="1.2 0.6"/>
<rect x="320" y="689" width="774" height="260" rx="12" fill="#e4f8ec" stroke="#ffffff" stroke-width="1" />
<text x="327.84" y="713.8" font-size="11.92" font-weight="700" fill="#0f0f0f" textLength="240.23" lengthAdjust="spacingAndGlyphs" >Open Sales Order Count By Revenue</text>
<rect x="564.3" y="740.3" width="9.7" height="7.9" rx="0" fill="#0aa83f" />
<text x="581.39" y="748.4" font-size="12.94" font-weight="400" fill="#0e4a3b" textLength="96.01" lengthAdjust="spacingAndGlyphs" stroke="#0e4a3b" stroke-width="0.05">So Line Amount</text>
<rect x="716.2" y="740.3" width="10.2" height="7.9" rx="0" fill="#fdb48a" />
<text x="734.20" y="748.4" font-size="12.94" font-weight="400" fill="#0e4a3b" textLength="100.82" lengthAdjust="spacingAndGlyphs" stroke="#0e4a3b" stroke-width="0.05">Total So Number</text>
<line x1="361" y1="769.8" x2="1083" y2="769.8" stroke="#dde5df" stroke-width="1.4" />
<text x="341" y="773.3" font-size="12.5" font-weight="400" fill="#0e4a3b" text-anchor="middle" stroke="#0e4a3b" stroke-width="0.05">20K</text>
<line x1="361" y1="792.7" x2="1083" y2="792.7" stroke="#dde5df" stroke-width="1.4" />
<text x="341" y="796.2" font-size="12.5" font-weight="400" fill="#0e4a3b" text-anchor="middle" stroke="#0e4a3b" stroke-width="0.05">15K</text>
<line x1="361" y1="815.6" x2="1083" y2="815.6" stroke="#dde5df" stroke-width="1.4" />
<text x="341" y="819.1" font-size="12.5" font-weight="400" fill="#0e4a3b" text-anchor="middle" stroke="#0e4a3b" stroke-width="0.05">10K</text>
<line x1="361" y1="838.5" x2="1083" y2="838.5" stroke="#dde5df" stroke-width="1.4" />
<text x="341" y="842.0" font-size="12.5" font-weight="400" fill="#0e4a3b" text-anchor="middle" stroke="#0e4a3b" stroke-width="0.05">5K</text>
<line x1="361" y1="861.4" x2="1083" y2="861.4" stroke="#dde5df" stroke-width="1.4" />
<text x="341" y="864.9" font-size="12.5" font-weight="400" fill="#0e4a3b" text-anchor="middle" stroke="#0e4a3b" stroke-width="0.05">0</text>
<path d="M481,777.7 C551,813.7 650.5,852.4 721.5,852.1 C800,851.8 880,849.5 962,848.3 L962,862 L481,862 Z" fill="#aee3bf" />
<path d="M481,777.7 C551,813.7 650.5,852.4 721.5,852.1 C800,851.8 880,849.5 962,848.3" fill="none" stroke="#0ea53f" stroke-width="2.2" />
<line x1="481" y1="861.9" x2="962" y2="861.9" stroke="#fdb48a" stroke-width="2.2" />
<circle cx="481" cy="777.7" r="3" fill="#0ea53f" stroke="#ffffff" stroke-width="0.8" />
<circle cx="721.5" cy="852.1" r="3" fill="#0ea53f" stroke="#ffffff" stroke-width="0.8" />
<circle cx="962" cy="848.3" r="3" fill="#0ea53f" stroke="#ffffff" stroke-width="0.8" />
<circle cx="481" cy="861.9" r="3" fill="#fdb48a" stroke="#ffffff" stroke-width="0.8" />
<circle cx="721.5" cy="861.9" r="3" fill="#fdb48a" stroke="#ffffff" stroke-width="0.8" />
<circle cx="962" cy="861.9" r="3" fill="#fdb48a" stroke="#ffffff" stroke-width="0.8" />
<text x="450.03" y="879.4" font-size="12.94" font-weight="400" fill="#0e4a3b" textLength="61.68" lengthAdjust="spacingAndGlyphs" stroke="#0e4a3b" stroke-width="0.05">September</text>
<text x="466.76" y="890.7" font-size="12.94" font-weight="400" fill="#0e4a3b" textLength="28.48" lengthAdjust="spacingAndGlyphs" stroke="#0e4a3b" stroke-width="0.05">2025</text>
<text x="698.49" y="879.4" font-size="12.94" font-weight="400" fill="#0e4a3b" textLength="46.13" lengthAdjust="spacingAndGlyphs" stroke="#0e4a3b" stroke-width="0.05">October</text>
<text x="707.36" y="890.7" font-size="12.94" font-weight="400" fill="#0e4a3b" textLength="28.48" lengthAdjust="spacingAndGlyphs" stroke="#0e4a3b" stroke-width="0.05">2025</text>
<text x="933.07" y="879.4" font-size="12.94" font-weight="400" fill="#0e4a3b" textLength="57.94" lengthAdjust="spacingAndGlyphs" stroke="#0e4a3b" stroke-width="0.05">December</text>
<text x="948.06" y="890.7" font-size="12.94" font-weight="400" fill="#0e4a3b" textLength="28.48" lengthAdjust="spacingAndGlyphs" stroke="#0e4a3b" stroke-width="0.05">2025</text>
<rect x="1112.5" y="328" width="773.5" height="324.2" rx="12" fill="#e4f8ec" stroke="#ffffff" stroke-width="0.8" />
<text x="1119.85" y="353.0" font-size="11.92" font-weight="700" fill="#0f0f0f" textLength="197.31" lengthAdjust="spacingAndGlyphs" >Top 10 Customers By Revenue</text>
<circle cx="1143.2" cy="382.7" r="4.7" fill="#0aa83a" />
<text x="1155.56" y="385.9" font-size="12.35" font-weight="400" fill="#505050" textLength="156.55" lengthAdjust="spacingAndGlyphs" stroke="#505050" stroke-width="0.1">Huel Interior Group [DEMO]</text>
<circle cx="1350.2" cy="382.7" r="4.7" fill="#fdb48a" />
<text x="1362.49" y="385.9" font-size="12.35" font-weight="400" fill="#505050" textLength="140.90" lengthAdjust="spacingAndGlyphs" stroke="#505050" stroke-width="0.1">Elizabeth Bennet [DEMO]</text>
<circle cx="1541.9" cy="382.7" r="4.7" fill="#1a82a5" />
<text x="1554.31" y="385.9" font-size="12.35" font-weight="400" fill="#505050" textLength="124.97" lengthAdjust="spacingAndGlyphs" stroke="#505050" stroke-width="0.1">John Tabletop [DEMO]</text>
<circle cx="1143.2" cy="406.6" r="4.7" fill="#26c1c1" />
<text x="1155.60" y="409.8" font-size="12.35" font-weight="400" fill="#505050" textLength="122.26" lengthAdjust="spacingAndGlyphs" stroke="#505050" stroke-width="0.1">Pepe Ballham [DEMO]</text>
<circle cx="1318.3" cy="406.6" r="4.7" fill="#f9c85a" />
<text x="1330.38" y="409.8" font-size="12.35" font-weight="400" fill="#505050" textLength="106.70" lengthAdjust="spacingAndGlyphs" stroke="#505050" stroke-width="0.1">Rob Decor [DEMO]</text>
<circle cx="1477.6" cy="406.6" r="4.7" fill="#f59a23" />
<text x="1489.73" y="409.8" font-size="12.35" font-weight="400" fill="#505050" textLength="168.46" lengthAdjust="spacingAndGlyphs" stroke="#505050" stroke-width="0.1">Stokes Inc Megastore [DEMO]</text>
<path d="M1814.8,388.8 L1820.7,377.0 L1826.6,388.8 Z" fill="#7c8780" />
<text x="1828.95" y="385.8" font-size="12.79" font-weight="400" fill="#858585" textLength="17.38" lengthAdjust="spacingAndGlyphs" >1/2</text>
<path d="M1847.4,377.0 L1859.4,377.0 L1853.4,388.8 Z" fill="#03a838" />
<path d="M1499.0,524.3 L1499.00,433.50 A90.8,90.8 0 0 1 1564.32,461.23 Z" fill="#0cae3e" stroke="#e4f8ec" stroke-width="0.6" />
<path d="M1499.0,524.3 L1564.32,461.23 A90.8,90.8 0 0 1 1589.79,522.87 Z" fill="#fdb48a" stroke="#e4f8ec" stroke-width="0.6" />
<path d="M1499.0,524.3 L1589.79,522.87 A90.8,90.8 0 0 1 1569.65,581.34 Z" fill="#1a82a5" stroke="#e4f8ec" stroke-width="0.6" />
<path d="M1499.0,524.3 L1569.65,581.34 A90.8,90.8 0 0 1 1519.64,612.72 Z" fill="#27c2c0" stroke="#e4f8ec" stroke-width="0.6" />
<path d="M1499.0,524.3 L1519.64,612.72 A90.8,90.8 0 0 1 1462.57,607.47 Z" fill="#f9c85a" stroke="#e4f8ec" stroke-width="0.6" />
<path d="M1499.0,524.3 L1462.57,607.47 A90.8,90.8 0 0 1 1423.11,574.15 Z" fill="#f59e2b" stroke="#e4f8ec" stroke-width="0.6" />
<path d="M1499.0,524.3 L1423.11,574.15 A90.8,90.8 0 0 1 1408.20,525.10 Z" fill="#f07a37" stroke="#e4f8ec" stroke-width="0.6" />
<path d="M1499.0,524.3 L1408.20,525.10 A90.8,90.8 0 0 1 1420.18,479.21 Z" fill="#99c57a" stroke="#e4f8ec" stroke-width="0.6" />
<path d="M1499.0,524.3 L1420.18,479.21 A90.8,90.8 0 0 1 1453.52,445.71 Z" fill="#4daf8e" stroke="#e4f8ec" stroke-width="0.6" />
<path d="M1499.0,524.3 L1453.52,445.71 A90.8,90.8 0 0 1 1499.00,433.50 Z" fill="#5e7a95" stroke="#e4f8ec" stroke-width="0.6" />
<g transform="translate(1523.31,467.05) rotate(-67.00)"><text x="0" y="-2.3" font-size="13" fill="#ffffff" text-anchor="middle">12.78%</text><text x="0" y="11.3" font-size="13" fill="#ffffff" text-anchor="middle">$26.95 M</text></g>
<g transform="translate(1556.49,500.55) rotate(-22.45)"><text x="0" y="-2.3" font-size="13" fill="#ffffff" text-anchor="middle">11.97%</text><text x="0" y="11.3" font-size="13" fill="#ffffff" text-anchor="middle">$25.24 M</text></g>
<g transform="translate(1557.81,544.56) rotate(19.01)"><text x="0" y="-2.3" font-size="13" fill="#ffffff" text-anchor="middle">11.06%</text><text x="0" y="11.3" font-size="13" fill="#ffffff" text-anchor="middle">$23.31 M</text></g>
<g transform="translate(1532.06,576.98) rotate(57.89)"><text x="0" y="-2.3" font-size="13" fill="#ffffff" text-anchor="middle">10.54%</text><text x="0" y="11.3" font-size="13" fill="#ffffff" text-anchor="middle">$22.23 M</text></g>
<g transform="translate(1493.30,586.24) rotate(-84.74)"><text x="0" y="-2.3" font-size="13" fill="#ffffff" text-anchor="middle">10.22%</text><text x="0" y="11.3" font-size="13" fill="#ffffff" text-anchor="middle">$21.54 M</text></g>
<g transform="translate(1458.87,571.82) rotate(-49.82)"><text x="0" y="-2.3" font-size="13" fill="#ffffff" text-anchor="middle">9.18%</text><text x="0" y="11.3" font-size="13" fill="#ffffff" text-anchor="middle">$19.35 M</text></g>
<g transform="translate(1439.49,542.38) rotate(-16.90)"><text x="0" y="-2.3" font-size="13" fill="#ffffff" text-anchor="middle">9.11%</text><text x="0" y="11.3" font-size="13" fill="#ffffff" text-anchor="middle">$19.20 M</text></g>
<g transform="translate(1438.82,508.59) rotate(14.63)"><text x="0" y="-2.3" font-size="13" fill="#ffffff" text-anchor="middle">8.41%</text><text x="0" y="11.3" font-size="13" fill="#ffffff" text-anchor="middle">$17.74 M</text></g>
<g transform="translate(1454.91,480.43) rotate(44.86)"><text x="0" y="-2.3" font-size="13" fill="#ffffff" text-anchor="middle">8.38%</text><text x="0" y="11.3" font-size="13" fill="#ffffff" text-anchor="middle">$17.66 M</text></g>
<g transform="translate(1482.87,464.23) rotate(74.97)"><text x="0" y="-2.3" font-size="13" fill="#ffffff" text-anchor="middle">8.35%</text><text x="0" y="11.3" font-size="13" fill="#ffffff" text-anchor="middle">$17.60 M</text></g>
<circle cx="1869" cy="640.2" r="6.35" fill="none" stroke="#14987a" stroke-width="1.45" />
<rect x="1868.2" y="636.6" width="1.6" height="1.3" rx="0" fill="#14987a" />
<rect x="1868.2" y="638.9000000000001" width="1.6" height="5.0" rx="0" fill="#14987a" />
<path d="M1880.8,652.2 L1886,652.2 L1886,647.0" fill="none" stroke="#828282" stroke-width="1.9" />
<rect x="1112.5" y="670.5" width="773.5" height="270" rx="12" fill="#ffffff" />
<text x="1119.94" y="694.9" font-size="11.92" font-weight="700" fill="#0f0f0f" textLength="320.73" lengthAdjust="spacingAndGlyphs" >Total Amount, Ship Date Month, Customer Name</text>
<rect x="1138.6" y="721.4" width="8.4" height="8.2" rx="0" fill="#0aa83a" />
<text x="1154.28" y="729.1" font-size="12.65" font-weight="400" fill="#1f5a4a" textLength="168.90" lengthAdjust="spacingAndGlyphs" >Huel Interior Group [DEMO]</text>
<rect x="1358.3" y="721.4" width="8.4" height="8.2" rx="0" fill="#fdb48a" />
<text x="1373.21" y="729.1" font-size="12.65" font-weight="400" fill="#1f5a4a" textLength="144.23" lengthAdjust="spacingAndGlyphs" >Emma Stubbins [DEMO]</text>
<rect x="1554.5" y="721.4" width="8.4" height="8.2" rx="0" fill="#1a82a5" />
<text x="1569.50" y="729.1" font-size="12.65" font-weight="400" fill="#1f5a4a" textLength="153.05" lengthAdjust="spacingAndGlyphs" >Roberts Kitchens [DEMO]</text>
<rect x="1138.6" y="746.5" width="8.4" height="8.2" rx="0" fill="#26c1c1" />
<text x="1154.80" y="754.2" font-size="12.65" font-weight="400" fill="#1f5a4a" textLength="179.85" lengthAdjust="spacingAndGlyphs" >Stokes Inc Megastore [DEMO]</text>
<rect x="1369.4" y="746.5" width="8.4" height="8.2" rx="0" fill="#f9c85a" />
<text x="1384.71" y="754.2" font-size="12.65" font-weight="400" fill="#1f5a4a" textLength="185.00" lengthAdjust="spacingAndGlyphs" >Ledner and Sons Wholesale [...</text>
<path d="M1814.8,731.8 L1820.7,720.0 L1826.6,731.8 Z" fill="#888888" />
<text x="1828.95" y="728.8" font-size="12.79" font-weight="400" fill="#858585" textLength="17.38" lengthAdjust="spacingAndGlyphs" >1/2</text>
<path d="M1847.4,720.0 L1859.4,720.0 L1853.4,731.8 Z" fill="#03a838" />
<line x1="1189.3" y1="842.6" x2="1874.4" y2="842.6" stroke="#d9d9d9" stroke-width="1.2" />
<line x1="1189.3" y1="834.52" x2="1874.4" y2="834.52" stroke="#e2e2e2" stroke-width="1.2" />
<line x1="1189.3" y1="826.44" x2="1874.4" y2="826.44" stroke="#e2e2e2" stroke-width="1.2" />
<line x1="1189.3" y1="818.36" x2="1874.4" y2="818.36" stroke="#e2e2e2" stroke-width="1.2" />
<line x1="1189.3" y1="810.28" x2="1874.4" y2="810.28" stroke="#e2e2e2" stroke-width="1.2" />
<line x1="1189.3" y1="802.2" x2="1874.4" y2="802.2" stroke="#e2e2e2" stroke-width="1.2" />
<line x1="1189.3" y1="794.12" x2="1874.4" y2="794.12" stroke="#e2e2e2" stroke-width="1.2" />
<line x1="1189.3" y1="786.04" x2="1874.4" y2="786.04" stroke="#e2e2e2" stroke-width="1.2" />
<text x="1158.52" y="796.8" font-size="12.21" font-weight="400" fill="#1f5a4a" textLength="20.61" lengthAdjust="spacingAndGlyphs" stroke="#1f5a4a" stroke-width="0.12">18K</text>
<text x="1158.52" y="813.8" font-size="12.21" font-weight="400" fill="#1f5a4a" textLength="20.61" lengthAdjust="spacingAndGlyphs" stroke="#1f5a4a" stroke-width="0.12">12K</text>
<text x="1161.38" y="830.0" font-size="12.21" font-weight="400" fill="#1f5a4a" textLength="14.85" lengthAdjust="spacingAndGlyphs" stroke="#1f5a4a" stroke-width="0.12">6K</text>
<text x="1165.16" y="845.7" font-size="12.21" font-weight="400" fill="#1f5a4a" textLength="7.68" lengthAdjust="spacingAndGlyphs" stroke="#1f5a4a" stroke-width="0.12">0</text>
<text transform="translate(1134.2,816.7) rotate(-90)" font-size="14" fill="#1f5a4a" text-anchor="middle" textLength="53" lengthAdjust="spacingAndGlyphs" stroke="#1f5a4a" stroke-width="0.12">Revenue</text>
<rect x="1223.3" y="818.3" width="102.9" height="11.9" rx="0" fill="#0cae3e" />
<rect x="1223.3" y="830.2" width="102.9" height="5.5" rx="0" fill="#fdb48a" />
<rect x="1223.3" y="835.7" width="102.9" height="4.2" rx="0" fill="#1a82a5" />
<rect x="1223.3" y="839.9" width="102.9" height="2.7" rx="0" fill="#27c2c0" />
<rect x="1394.8" y="787.8" width="102.8" height="10.5" rx="0" fill="#0cae3e" />
<rect x="1394.8" y="798.3" width="102.8" height="23.1" rx="0" fill="#1a82a5" />
<rect x="1394.8" y="821.4" width="102.8" height="15.3" rx="0" fill="#27c2c0" />
<rect x="1394.8" y="836.7" width="102.8" height="5.9" rx="0" fill="#f9c85a" />
<rect x="1566.0" y="787.0" width="102.9" height="6.0" rx="0" fill="#0cae3e" />
<rect x="1566.0" y="793.0" width="102.9" height="5.8" rx="0" fill="#fdb48a" />
<rect x="1566.0" y="798.8" width="102.9" height="10.2" rx="0" fill="#27c2c0" />
<rect x="1566.0" y="809.0" width="102.9" height="3.6" rx="0" fill="#f9c85a" />
<rect x="1566.0" y="812.6" width="102.9" height="17.7" rx="0" fill="#f59e2b" />
<rect x="1566.0" y="830.3" width="102.9" height="5.3" rx="0" fill="#f07a37" />
<rect x="1566.0" y="835.6" width="102.9" height="3.6" rx="0" fill="#99c57a" />
<rect x="1566.0" y="839.2" width="102.9" height="3.4" rx="0" fill="#4daf8e" />
<rect x="1737.5" y="827.1" width="102.7" height="15.5" rx="0" fill="#f59e2b" />
<line x1="1274.7" y1="842.6" x2="1274.7" y2="847.4" stroke="#cfcfcf" stroke-width="1.2" />
<line x1="1446.2" y1="842.6" x2="1446.2" y2="847.4" stroke="#cfcfcf" stroke-width="1.2" />
<line x1="1617.4" y1="842.6" x2="1617.4" y2="847.4" stroke="#cfcfcf" stroke-width="1.2" />
<line x1="1788.8" y1="842.6" x2="1788.8" y2="847.4" stroke="#cfcfcf" stroke-width="1.2" />
<text x="1263.61" y="860.0" font-size="13.08" font-weight="400" fill="#1f5a4a" textLength="21.51" lengthAdjust="spacingAndGlyphs" stroke="#1f5a4a" stroke-width="0.12">July</text>
<text x="1260.78" y="871.8" font-size="13.08" font-weight="400" fill="#1f5a4a" textLength="27.23" lengthAdjust="spacingAndGlyphs" stroke="#1f5a4a" stroke-width="0.12">2025</text>
<text x="1426.48" y="860.0" font-size="13.08" font-weight="400" fill="#1f5a4a" textLength="38.92" lengthAdjust="spacingAndGlyphs" stroke="#1f5a4a" stroke-width="0.12">August</text>
<text x="1431.98" y="871.8" font-size="13.08" font-weight="400" fill="#1f5a4a" textLength="27.54" lengthAdjust="spacingAndGlyphs" stroke="#1f5a4a" stroke-width="0.12">2025</text>
<text x="1586.73" y="860.0" font-size="13.08" font-weight="400" fill="#1f5a4a" textLength="60.87" lengthAdjust="spacingAndGlyphs" stroke="#1f5a4a" stroke-width="0.12">September</text>
<text x="1603.27" y="871.8" font-size="13.08" font-weight="400" fill="#1f5a4a" textLength="27.65" lengthAdjust="spacingAndGlyphs" stroke="#1f5a4a" stroke-width="0.12">2025</text>
<text x="1759.31" y="860.0" font-size="13.08" font-weight="400" fill="#1f5a4a" textLength="55.69" lengthAdjust="spacingAndGlyphs" stroke="#1f5a4a" stroke-width="0.12">November</text>
<text x="1774.77" y="871.8" font-size="13.08" font-weight="400" fill="#1f5a4a" textLength="27.75" lengthAdjust="spacingAndGlyphs" stroke="#1f5a4a" stroke-width="0.12">2025</text>
<text x="1493.68" y="909.9" font-size="14.24" font-weight="400" fill="#1f5a4a" textLength="75.86" lengthAdjust="spacingAndGlyphs" stroke="#1f5a4a" stroke-width="0.12">Year-month</text>
<circle cx="1823" cy="865" r="60" fill="url(#chatsh)" />
<circle cx="1821.5" cy="858.7" r="29.6" fill="#ffffff" stroke="#e5e5e5" stroke-width="3.6" />
<path d="M1811.3,843.8 L1808.3,857.8 A7.16,7.16 0 0 1 1811.3,843.8 Z" fill="#004436" />
<path d="M1822.8,845.9 L1819.8,860 A7.2,7.2 0 0 1 1822.8,845.9 Z" fill="#004436" />
<path d="M1816.2,869.2 A9.75,9.75 0 0 0 1834.2,861.7 Z" fill="#0bd94c" />
<rect x="1887.8" y="546.3" width="30" height="99" rx="6" fill="#ffffff" stroke="#4db862" stroke-width="1.2" />
<text transform="translate(1895.3,560) rotate(90)" font-size="13.2" fill="#5fb35a" textLength="71.5" lengthAdjust="spacing">Feedback</text>
</svg>
</body></html>
